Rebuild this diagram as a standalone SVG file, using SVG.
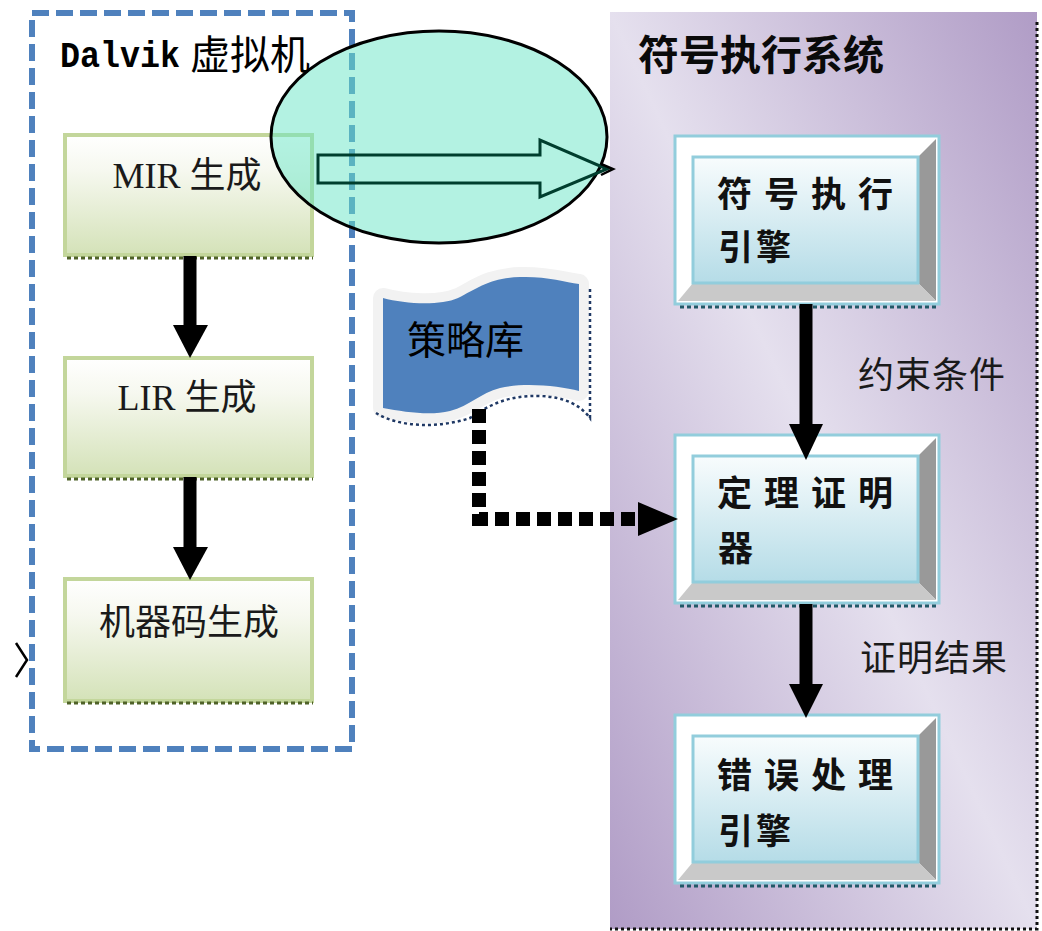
<svg xmlns="http://www.w3.org/2000/svg" width="1042" height="931" viewBox="0 0 1042 931">
<defs>
<linearGradient id="panelG" x1="0" y1="1" x2="1" y2="0">
<stop offset="0" stop-color="#B09CC6"/>
<stop offset="0.5" stop-color="#E5E0EE"/>
<stop offset="1" stop-color="#B09CC6"/>
</linearGradient>
<linearGradient id="greenG" x1="0" y1="0" x2="0" y2="1">
<stop offset="0" stop-color="#FFFFFF"/>
<stop offset="0.3" stop-color="#F6F8EF"/>
<stop offset="1" stop-color="#D4E2B8"/>
</linearGradient>
<linearGradient id="blueG" x1="0" y1="0" x2="0" y2="1">
<stop offset="0" stop-color="#F8FCFD"/>
<stop offset="1" stop-color="#B5DCE7"/>
</linearGradient>
<g id="bevel">
<rect x="0" y="0" width="264" height="168" fill="#FFFFFF" stroke="#92CDDC" stroke-width="3"/>
<polygon points="243,21 261,3 261,165 243,147" fill="#999999"/>
<polygon points="18,147 243,147 261,165 3,165" fill="#C9C9C9"/>
<rect x="18" y="21" width="225" height="126" fill="url(#blueG)" stroke="#92CDDC" stroke-width="3"/>
<line x1="5" y1="171" x2="264" y2="171" stroke="#215968" stroke-width="3" stroke-dasharray="4 3"/>
</g>
</defs>
<style>
.lbox{fill:url(#greenG);stroke:#C3D69B;stroke-width:4}
.ldot{stroke:#4F6228;stroke-width:3;stroke-dasharray:4 3}
.ltxt{font-family:"Liberation Serif","Noto Sans CJK SC",serif;font-size:36px;fill:#1A1A1A;text-anchor:middle}
.rtxt{font-family:"Noto Sans CJK SC",sans-serif;font-size:35px;font-weight:bold;fill:#111111;letter-spacing:12px}
.rtxt2{font-family:"Noto Sans CJK SC",sans-serif;font-size:35px;font-weight:bold;fill:#111111;letter-spacing:3px}
.lab{font-family:"Noto Sans CJK SC",sans-serif;font-size:36px;fill:#1A1A1A;letter-spacing:1px}
.shaft{stroke:#000000;stroke-width:13}
</style>

<!-- right panel -->
<g id="panel">
<rect x="610" y="12" width="427" height="917" fill="url(#panelG)"/>
<path d="M1037,22 L1037,929 L610,929" fill="none" stroke="#111111" stroke-width="3" stroke-dasharray="3 3"/>
<text x="638" y="70" font-family="'Noto Sans CJK SC',sans-serif" font-size="41" font-weight="bold" fill="#0A0A0A">符号执行系统</text>
</g>

<!-- left dashed container -->
<g id="dalvik">
<rect x="32" y="13" width="320" height="736" fill="none" stroke="#4F81BD" stroke-width="6" stroke-dasharray="17 7"/>
<text y="67" font-family="'Liberation Mono','Noto Sans CJK SC',monospace" fill="#000000"><tspan x="60" font-size="36" font-weight="bold" textLength="120" lengthAdjust="spacingAndGlyphs">Dalvik</tspan><tspan x="190" y="69" font-family="'Noto Sans CJK SC',sans-serif" font-size="40">虚拟机</tspan></text>
</g>

<g id="mir">
<rect class="lbox" x="65" y="135" width="247" height="120"/>
<line class="ldot" x1="67" y1="258" x2="313" y2="258"/>
<text class="ltxt" x="187" y="188">MIR 生成</text>
</g>
<g id="lir">
<rect class="lbox" x="65" y="358" width="247" height="118"/>
<line class="ldot" x1="67" y1="479" x2="313" y2="479"/>
<text class="ltxt" x="187" y="410">LIR 生成</text>
</g>
<g id="mcode">
<rect class="lbox" x="65" y="579" width="247" height="122"/>
<line class="ldot" x1="67" y1="703" x2="313" y2="703"/>
<text class="ltxt" x="189" y="635">机器码生成</text>
</g>

<!-- strategy flag -->
<g id="strategy">
<path d="M383,298 C405,304 440,306 458,298 C478,288 490,278 520,277 C545,276 565,282 579,284 L579,391 C560,386 525,382 500,388 C480,393 470,406 450,411 C430,416 405,412 383,408 Z" fill="#F2F2F2" stroke="#F2F2F2" stroke-width="20" stroke-linejoin="round"/>
<path d="M383,298 C405,304 440,306 458,298 C478,288 490,278 520,277 C545,276 565,282 579,284 L579,391 C560,386 525,382 500,388 C480,393 470,406 450,411 C430,416 405,412 383,408 Z" fill="#4F81BD"/>
<path d="M376,413 C400,428 440,428 470,418 C490,404 510,395 540,396 C565,397 580,405 590,418 L590,286" fill="none" stroke="#1F3864" stroke-width="2.5" stroke-dasharray="3 3"/>
<text x="407" y="354" font-family="'Noto Sans CJK SC',sans-serif" font-size="39" fill="#000000">策略库</text>
</g>

<!-- right nodes -->
<g id="engine">
<use href="#bevel" x="675" y="136"/>
<text class="rtxt" x="717" y="207">符号执行</text>
<text class="rtxt2" x="718" y="260">引擎</text>
</g>
<g id="prover">
<use href="#bevel" x="675" y="435"/>
<text class="rtxt" x="717" y="506">定理证明</text>
<text class="rtxt2" x="718" y="561">器</text>
</g>
<g id="error">
<use href="#bevel" x="675" y="715"/>
<text class="rtxt" x="717" y="788">错误处理</text>
<text class="rtxt2" x="718" y="844">引擎</text>
</g>

<!-- connectors -->
<g id="connectors">
<line class="shaft" x1="190" y1="256" x2="190" y2="330"/>
<polygon points="173,325 208,325 190,358"/>
<line class="shaft" x1="190" y1="477" x2="190" y2="550"/>
<polygon points="173,547 208,547 190,580"/>
<line class="shaft" x1="806" y1="304" x2="806" y2="428"/>
<polygon points="789,424 823,424 806,460"/>
<line class="shaft" x1="806" y1="604" x2="806" y2="688"/>
<polygon points="789,684 823,684 806,718"/>
<path d="M479,409 L479,519 L636,519" fill="none" stroke="#000000" stroke-width="14" stroke-dasharray="14 7"/>
<polygon points="638,502 638,536 678,519"/>
<text class="lab" x="858" y="388">约束条件</text>
<text class="lab" x="860" y="671">证明结果</text>
</g>

<!-- ellipse with block arrow -->
<g id="callout">
<ellipse cx="439" cy="137" rx="168" ry="106" fill="#67E5C5" fill-opacity="0.5" stroke="#000000" stroke-width="3"/>
<polygon points="318,155 540,155 540,140 607,169 540,197 540,183 318,183" fill="none" stroke="#003E2E" stroke-width="3"/>
<polyline points="601,164 613,169 601,175" fill="none" stroke="#000000" stroke-width="2.5"/>
</g>

<polyline points="16,643 27,660 16,677" fill="none" stroke="#000000" stroke-width="2.5"/>
</svg>
